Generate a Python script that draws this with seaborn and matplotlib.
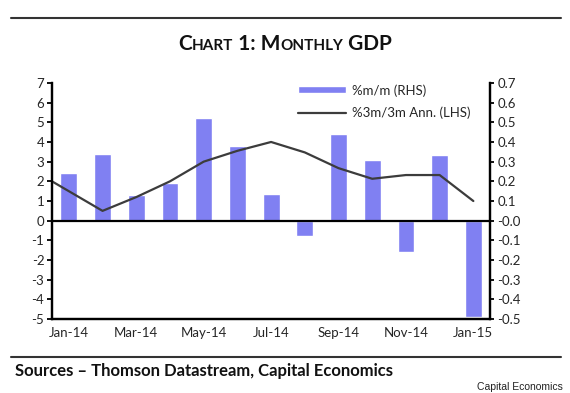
import numpy as np
import pandas as pd
import matplotlib
matplotlib.use("Agg")
import matplotlib.pyplot as plt
import seaborn as sns

###################################
# Data.

months = ["Jan-14", "Feb-14", "Mar-14", "Apr-14", "May-14", "Jun-14", "Jul-14",
          "Aug-14", "Sep-14", "Oct-14", "Nov-14", "Dec-14", "Jan-15"]
# %m/m, right hand scale
mm_growth = [0.24, 0.34, 0.13, 0.19, 0.52, 0.38, 0.135,
             -0.08, 0.44, 0.31, -0.16, 0.335, -0.49]

# %3m/3m annualised, left hand scale (starts one month earlier, clipped)
line_months = ["Dec-13"] + months
ann_growth = [2.5, 1.5, 0.5, 1.2, 2.0, 3.0, 3.55, 4.0,
              3.47, 2.67, 2.13, 2.32, 2.32, 1.0]

tick_labels = months[::2]

###################################

BAR_COL = "#8080f2"
LINE_COL = "#3c3c3c"

sns.set_style("white")
plt.rcParams['font.family'] = ['Lato', 'DejaVu Sans']
plt.rcParams['axes.unicode_minus'] = False

# month index -> position, each month is one unit wide, bars sit mid-month
bar_df = pd.DataFrame({"pos": np.arange(len(months)) + 0.5, "mm": mm_growth})
line_df = pd.DataFrame({"pos": np.arange(len(line_months)) - 0.5,
                        "ann": ann_growth})

fig = plt.figure(figsize=(5.7, 3.93), dpi=100)
ax = fig.add_axes([0.0912, 0.188, 0.7688, 0.601])
ax2 = ax.twinx()

sns.barplot(data=bar_df, x="pos", y="mm", native_scale=True, width=0.5,
            color=BAR_COL, saturation=1, label="%m/m (RHS)", ax=ax2)
sns.lineplot(data=line_df, x="pos", y="ann", color=LINE_COL, lw=1.6,
             label="%3m/3m Ann. (LHS)", ax=ax)

# line axis drawn above the bars
ax.set_zorder(ax2.get_zorder() + 1)
ax.patch.set_visible(False)

ax.axhline(0, color="black", lw=1.6, zorder=5)

ax.set(xlim=[0, 13], ylim=[-5, 7], xlabel="", ylabel="")
ax2.set(xlim=[0, 13], ylim=[-0.5, 0.7], xlabel="", ylabel="")
ax.set_yticks(range(-5, 8))
ax2.set_yticks(np.round(np.arange(-0.5, 0.71, 0.1), 1))
ax2.set_yticklabels(["{:.1f}".format(v) for v in ax2.get_yticks()])

# tick marks at month boundaries, labels centred on the bars
ax.set_xticks(np.arange(0, 13, 2))
ax.set_xticklabels([])
ax.set_xticks(np.arange(0, 13, 2) + 0.5, minor=True)
ax.set_xticklabels(tick_labels, minor=True)
ax.tick_params(axis="x", which="minor", length=0, pad=6, labelsize=9.5)
ax.tick_params(axis="x", which="major", length=3.5, width=1.5,
               direction="out", color="black")
ax.tick_params(axis="y", length=3.5, width=1.3, direction="out",
               color="black", labelsize=9.5, pad=2)
ax2.tick_params(axis="y", length=3, width=1.3, direction="out",
                color="black", labelsize=9.5, pad=2)
ax2.tick_params(axis="x", length=0, labelbottom=False)

for a in (ax, ax2):
    a.spines["top"].set_visible(False)
    for s in ("left", "right", "bottom"):
        a.spines[s].set_linewidth(1.6)
        a.spines[s].set_color("black")

# legend holding both series
h1, l1 = ax2.get_legend_handles_labels()
h2, l2 = ax.get_legend_handles_labels()
if ax2.get_legend():
    ax2.get_legend().remove()
ax.legend(h1 + h2, l1 + l2, loc="upper left",
          bbox_to_anchor=(298 / 570, 1 - 84 / 393),
          bbox_transform=fig.transFigure, frameon=False, fontsize=9.5,
          handlelength=3.6, handleheight=0.45, handletextpad=0.5,
          labelspacing=0.75, borderpad=0, borderaxespad=0)

# Small caps title built from pieces.
parts = [("C", 15), ("HART", 11), (" 1: M", 15), ("ONTHLY", 11), (" GDP", 15)]
title_y = 1 - 50 / 393
first = fig.text(0.3, title_y, parts[0][0], fontsize=parts[0][1],
                 fontweight="bold", va="baseline", ha="left", color="#111111")
prev = first
pieces = [first]
for txt, size in parts[1:]:
    prev = ax.annotate(txt, xy=(1, title_y),
                       xycoords=(prev, "figure fraction"),
                       fontsize=size, fontweight="bold", va="baseline",
                       ha="left", color="#111111", annotation_clip=False)
    pieces.append(prev)

fig.canvas.draw()
x0 = pieces[0].get_window_extent().x0
x1 = pieces[-1].get_window_extent().x1
width_px = x1 - x0
first.set_x((285 - width_px / 2) / 570)

# rules above and below
for y in (1 - 18 / 393, 1 - 357 / 393):
    fig.add_artist(plt.Line2D([0.02, 0.985], [y, y], transform=fig.transFigure,
                              color="#333333", lw=1.5))

fig.text(15 / 570, 1 - 376 / 393,
         "Sources \u2013 Thomson Datastream, Capital Economics",
         fontsize=12, fontweight="bold", va="baseline", ha="left",
         color="#111111")
fig.text(563 / 570, 1 - 387 / 393, "Capital Economics",
         fontsize=7.5, family=["Liberation Sans", "DejaVu Sans"],
         va="center", ha="right", color="#222222")

fig.savefig("out.png", dpi=100)
